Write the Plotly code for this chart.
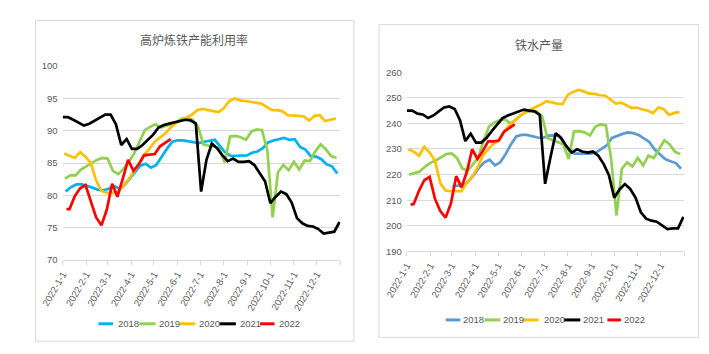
import pandas as pd
import plotly.graph_objects as go

W, H = 709, 354

years = ["2018", "2019", "2020", "2021", "2022"]
tick_dates = ["2022-01-01", "2022-02-01", "2022-03-01", "2022-04-01", "2022-05-01", "2022-06-01",
              "2022-07-01", "2022-08-01", "2022-09-01", "2022-10-01", "2022-11-01", "2022-12-01"]
tick_labels = ["2022-1-1", "2022-2-1", "2022-3-1", "2022-4-1", "2022-5-1", "2022-6-1",
               "2022-7-1", "2022-8-1", "2022-9-1", "2022-10-1", "2022-11-1", "2022-12-1"]

# ---------- 高炉炼铁产能利用率 (%) ----------
util_2018 = [80.6, 81.3, 81.7, 81.7, 81.5, 81.2, 80.9, 80.8, 81.0, 81.5, 81.1, 81.6, 82.6, 83.7,
             84.6, 84.9, 84.3, 84.7, 86.0, 87.2, 88.3, 88.5, 88.5, 88.4, 88.3, 88.1, 88.3, 88.4,
             88.6, 87.6, 86.6, 86.1, 86.1, 86.2, 86.2, 86.6, 86.8, 87.3, 88.2, 88.5, 88.7, 88.9,
             88.6, 88.7, 87.5, 87.1, 86.1, 86.0, 85.6, 84.8, 84.5, 83.4]
util_2019 = [82.6, 83.1, 83.1, 84.0, 84.5, 85.0, 85.5, 85.8, 85.7, 83.8, 83.3, 84.1, 85.2, 86.5,
             88.2, 90.1, 90.6, 91.0, 90.5, 90.7, 91.0, 91.4, 91.9, 92.0, 91.7, 90.6, 87.9, 87.7,
             87.6, 87.2, 85.1, 89.1, 89.2, 89.0, 88.6, 89.9, 90.2, 90.1, 87.0, 76.6, 83.6, 84.7,
             83.9, 85.2, 84.0, 85.4, 85.3, 86.8, 87.9, 87.1, 86.1, 85.8]
util_2020 = [86.5, 86.2, 85.8, 86.7, 86.0, 85.0, 82.3, 80.7, 80.4, 80.4, 80.6, 81.4, 82.4, 83.6,
             84.8, 86.3, 87.2, 88.3, 89.0, 89.6, 90.5, 91.2, 91.6, 92.0, 92.5, 93.2, 93.4, 93.2,
             93.0, 92.9, 93.5, 94.6, 95.0, 94.7, 94.6, 94.5, 94.3, 94.2, 93.7, 93.2, 93.2, 93.0,
             92.4, 92.4, 92.3, 92.2, 91.6, 92.3, 92.4, 91.5, 91.7, 91.9]
util_2021 = [92.1, 92.1, 91.7, 91.3, 90.8, 91.1, 91.6, 92.1, 92.5, 92.5, 91.0, 87.8, 88.7, 87.2,
             87.2, 87.8, 88.6, 89.4, 90.5, 90.9, 91.1, 91.3, 91.6, 91.7, 91.6, 91.1, 80.6, 85.5,
             88.0, 87.3, 86.2, 85.3, 85.7, 85.2, 85.2, 85.3, 84.7, 83.5, 82.2, 78.8, 79.8, 80.6,
             80.2, 78.9, 76.5, 75.7, 75.3, 75.2, 74.8, 74.1, 74.2, 74.4, 75.9]
util_2022 = [77.9, 77.9, 79.9, 81.1, 81.6, 79.0, 76.6, 75.4, 77.8, 81.8, 79.8, 82.6, 85.5, 83.8,
             84.8, 86.2, 86.3, 86.4, 87.6, 88.2, 88.7]

# ---------- 铁水产量 (万吨) ----------
iron_2018 = [215.4, 215.7, 215.7, 217.3, 219.8, 222.7, 224.8, 225.8, 223.6, 224.8, 228.0, 231.8,
             234.9, 235.5, 235.5, 234.9, 234.5, 234.3, 235.2, 235.3, 235.2, 232.4, 229.2, 228.2,
             228.2, 228.2, 228.2, 228.6, 229.9, 231.4, 234.3, 235.2, 235.9, 236.5, 236.2, 235.5,
             234.0, 232.8, 229.9, 228.0, 226.1, 225.2, 224.5, 222.3]
iron_2019 = [220.0, 220.6, 221.2, 223.1, 224.6, 225.5, 226.8, 228.0, 228.3, 226.5, 222.4, 221.5,
             224.0, 226.8, 233.1, 238.7, 240.3, 241.2, 241.6, 240.0, 241.2, 243.1, 244.4, 245.0,
             244.6, 242.8, 234.3, 233.3, 232.6, 231.8, 226.1, 236.8, 237.0, 236.5, 235.3, 238.7,
             239.6, 239.3, 226.0, 204.1, 222.3, 224.8, 223.2, 226.5, 223.6, 227.4, 226.5, 229.9,
             233.4, 231.8, 228.9, 228.0]
iron_2020 = [229.9, 229.0, 227.4, 230.9, 228.6, 225.5, 216.7, 213.8, 213.5, 213.4, 213.5, 216.7,
             219.2, 222.7, 227.4, 229.9, 232.0, 233.3, 236.8, 239.3, 241.2, 243.1, 244.4, 245.4,
             246.2, 247.5, 248.7, 248.1, 247.7, 247.5, 251.2, 252.3, 253.1, 252.5, 251.6, 251.5,
             251.0, 250.9, 249.4, 247.7, 248.1, 247.2, 246.0, 246.2, 245.4, 245.0, 244.0, 246.2,
             245.6, 243.3, 244.1, 244.4]
iron_2021 = [245.0, 245.0, 243.8, 243.5, 242.1, 243.1, 244.7, 246.2, 246.6, 245.6, 241.2, 233.1,
             236.0, 232.5, 232.5, 234.4, 237.1, 239.6, 242.1, 243.1, 243.8, 244.4, 245.4, 245.0,
             244.7, 243.3, 216.4, 226.7, 236.2, 234.3, 231.1, 228.6, 229.9, 229.0, 228.6, 229.0,
             227.4, 224.2, 219.8, 211.0, 214.2, 216.3, 214.4, 211.0, 205.3, 202.8, 202.0, 201.6,
             200.3, 198.7, 199.0, 199.0, 203.5]
iron_2022 = [208.3, 208.5, 213.7, 217.8, 219.1, 210.6, 205.8, 203.2, 208.7, 219.4, 215.0, 221.1,
             229.9, 226.1, 229.2, 233.0, 233.0, 233.3, 236.8, 238.3, 239.6]


def weekly(start, n):
    return list(pd.date_range(start, periods=n, freq="7D"))


def dates_2022(n):
    return [pd.Timestamp("2022-01-06")] + list(pd.date_range("2022-01-10", periods=n - 1, freq="7D"))


colors_left = ["#00B0F0", "#92D050", "#FFC000", "#000000", "#FF0000"]
colors_right = ["#5B9BD5", "#92D050", "#FFC000", "#000000", "#FF0000"]

left_series = [
    (weekly("2022-01-05", len(util_2018)), util_2018),
    (weekly("2022-01-04", len(util_2019)), util_2019),
    (weekly("2022-01-03", len(util_2020)), util_2020),
    (weekly("2022-01-01", len(util_2021)), util_2021),
    (dates_2022(len(util_2022)), util_2022),
]
right_series = [
    (weekly("2022-03-02", len(iron_2018)), iron_2018),
    (weekly("2022-01-04", len(iron_2019)), iron_2019),
    (weekly("2022-01-03", len(iron_2020)), iron_2020),
    (weekly("2022-01-01", len(iron_2021)), iron_2021),
    (dates_2022(len(iron_2022)), iron_2022),
]

fig = go.Figure()
for (x, y), name, c in zip(left_series, years, colors_left):
    fig.add_trace(go.Scatter(x=x, y=y, name=name, mode="lines", line=dict(color=c, width=2.7),
                             xaxis="x", yaxis="y", showlegend=False))
for (x, y), name, c in zip(right_series, years, colors_right):
    fig.add_trace(go.Scatter(x=x, y=y, name=name, mode="lines", line=dict(color=c, width=2.7),
                             xaxis="x2", yaxis="y2", showlegend=False))


def px(x):
    return x / W


def py(y):
    return 1 - y / H


FONT = "Liberation Sans Narrow, Arial Narrow, Liberation Sans, Arial, sans-serif"
GRID = "#D9D9D9"
TXT = "#595959"

xcommon = dict(type="date", range=["2022-01-01", "2023-01-01"],
               tickvals=tick_dates + ["2023-01-01"], ticktext=tick_labels + [""],
               tickangle=-60, showgrid=False, zeroline=False, showline=True, linecolor=GRID,
               linewidth=1, ticks="outside", ticklen=4, tickcolor=GRID,
               tickfont=dict(family=FONT, size=9.5, color=TXT))
ycommon = dict(showgrid=True, gridcolor=GRID, gridwidth=1, zeroline=False, showline=False,
               ticks="", tickfont=dict(family=FONT, size=9.5, color=TXT), ticklabelstandoff=4)

fig.update_layout(
    width=W, height=H, margin=dict(l=0, r=0, t=0, b=0),
    paper_bgcolor="white", plot_bgcolor="white",
    xaxis=dict(domain=[px(41), px(328)], anchor="y", **xcommon),
    yaxis=dict(domain=[py(262.3), py(62)], anchor="x", range=[70, 100], dtick=5,
               tickvals=[70, 75, 80, 85, 90, 95, 100], **ycommon),
    xaxis2=dict(domain=[px(396.7), px(683.3)], anchor="y2", **xcommon),
    yaxis2=dict(domain=[py(253.3), py(68.3)], anchor="x2", range=[190, 260], dtick=10,
                tickvals=[190, 200, 210, 220, 230, 240, 250, 260], **ycommon),
)

shapes = [
    dict(type="rect", xref="paper", yref="paper", x0=px(13), x1=px(342), y0=py(346), y1=py(15),
         line=dict(color=GRID, width=1), fillcolor="rgba(0,0,0,0)", layer="below"),
    dict(type="rect", xref="paper", yref="paper", x0=px(368), x1=px(698), y0=py(342), y1=py(19),
         line=dict(color=GRID, width=1), fillcolor="rgba(0,0,0,0)", layer="below"),
]
annotations = [
    dict(text="高炉炼铁产能利用率", x=px(177), y=py(35), xref="paper", yref="paper",
         showarrow=False, xanchor="center", yanchor="middle",
         font=dict(family="Noto Sans CJK SC", size=12, color=TXT)),
    dict(text="铁水产量", x=px(533), y=py(40), xref="paper", yref="paper",
         showarrow=False, xanchor="center", yanchor="middle",
         font=dict(family="Noto Sans CJK SC", size=12, color=TXT)),
]

# manual legends (short line samples like the original)
left_leg = [(78, 93, 96), (120, 137, 138), (162, 178, 180), (203, 220, 222), (245, 260, 263)]
right_leg = [(437, 452, 453), (477, 493, 494), (517, 533, 536), (559, 576, 577), (604, 618, 619)]
for items, ly, cols in [(left_leg, 328, colors_left), (right_leg, 324, colors_right)]:
    for (x0, x1, tx), name, c in zip(items, years, cols):
        shapes.append(dict(type="line", xref="paper", yref="paper", x0=px(x0), x1=px(x1),
                           y0=py(ly), y1=py(ly), line=dict(color=c, width=3)))
        annotations.append(dict(text=name, x=px(tx), y=py(ly), xref="paper", yref="paper",
                                showarrow=False, xanchor="left", yanchor="middle",
                                font=dict(family=FONT, size=9.5, color=TXT)))

fig.update_layout(shapes=shapes, annotations=annotations)
fig.write_html("out.html")
